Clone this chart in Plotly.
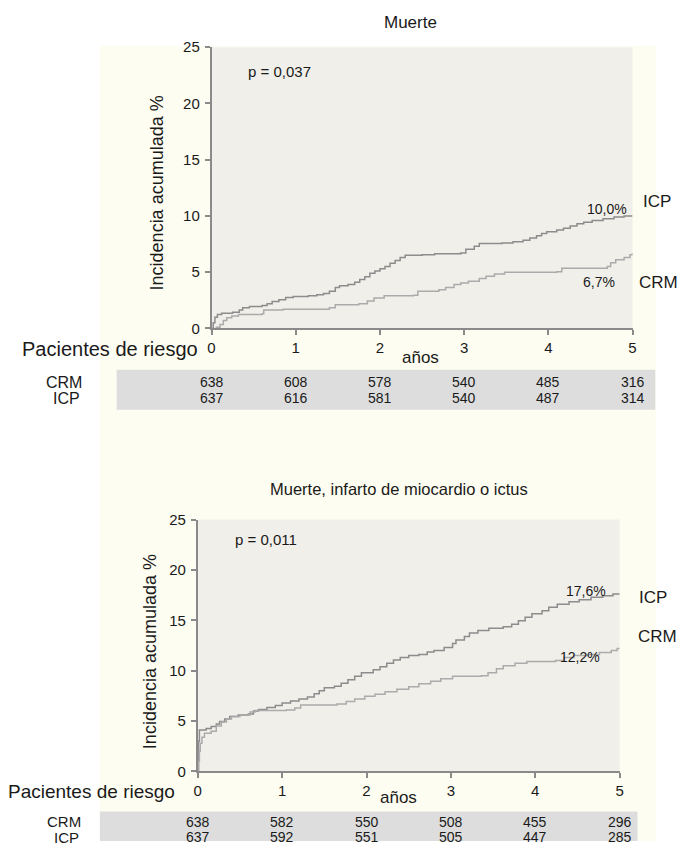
import plotly.graph_objects as go

W, H = 682, 849

years = [0, 1, 2, 3, 4, 5]
y_ticks = [0, 5, 10, 15, 20, 25]

# --- Panel 1: Muerte ---
m_icp_t = [0, 0.02, 0.04, 0.07, 0.12, 0.25, 0.33, 0.37, 0.45, 0.60, 0.66, 0.72, 0.80, 0.88, 0.97,
           1.15, 1.25, 1.33, 1.40, 1.47, 1.52, 1.62, 1.70, 1.76, 1.82, 1.88, 1.94, 2.00, 2.06,
           2.12, 2.18, 2.24, 2.30, 2.50, 2.65, 2.96, 3.02, 3.12, 3.18, 3.45, 3.58, 3.70, 3.78,
           3.86, 3.92, 3.98, 4.10, 4.18, 4.26, 4.34, 4.42, 4.52, 4.65, 4.78, 4.90, 5.0]
m_icp_v = [0, 0.5, 1.0, 1.25, 1.35, 1.45, 1.65, 1.85, 1.95, 2.05, 2.2, 2.4, 2.55, 2.75, 2.85,
           2.9, 3.0, 3.1, 3.3, 3.65, 3.8, 3.9, 4.1, 4.35, 4.6, 4.9, 5.1, 5.3, 5.5,
           5.8, 6.05, 6.3, 6.5, 6.55, 6.65, 6.7, 7.05, 7.3, 7.55, 7.6, 7.7, 7.85, 8.05,
           8.25, 8.45, 8.6, 8.75, 8.9, 9.1, 9.3, 9.45, 9.6, 9.75, 9.9, 10.0, 10.0]
m_crm_t = [0, 0.06, 0.10, 0.14, 0.18, 0.24, 0.32, 0.60, 0.62, 0.85, 1.20, 1.40, 1.47, 1.75,
           1.85, 1.93, 2.05, 2.40, 2.45, 2.70, 2.78, 2.88, 2.96, 3.05, 3.18, 3.26, 3.36, 3.48,
           4.10, 4.16, 4.70, 4.74, 4.80, 4.90, 4.97, 5.0]
m_crm_v = [0, 0.1, 0.35, 0.7, 0.95, 1.1, 1.25, 1.3, 1.65, 1.7, 1.7, 1.85, 2.1, 2.2,
           2.45, 2.7, 2.9, 2.95, 3.3, 3.45, 3.65, 3.9, 4.05, 4.2, 4.45, 4.65, 4.85, 5.0,
           5.05, 5.35, 5.5, 5.85, 6.1, 6.3, 6.55, 6.7]

# --- Panel 2: Muerte, infarto de miocardio o ictus ---
c_icp_t = [0, 0.01, 0.02, 0.10, 0.16, 0.22, 0.26, 0.32, 0.38, 0.48, 0.60, 0.66, 0.72, 0.82,
           0.92, 1.0, 1.1, 1.2, 1.3, 1.38, 1.44, 1.50, 1.62, 1.70, 1.78, 1.86, 1.94, 2.08,
           2.16, 2.24, 2.32, 2.40, 2.50, 2.62, 2.72, 2.80, 2.92, 3.02, 3.06, 3.16, 3.22, 3.32,
           3.45, 3.62, 3.72, 3.80, 3.88, 3.96, 4.08, 4.16, 4.26, 4.40, 4.52, 4.66, 4.80, 4.92, 5.0]
c_icp_v = [0, 3.0, 4.1, 4.25, 4.45, 4.7, 4.95, 5.2, 5.45, 5.6, 5.7, 6.0, 6.15, 6.35,
           6.55, 6.8, 7.0, 7.2, 7.4, 7.7, 8.0, 8.3, 8.45, 8.75, 9.1, 9.45, 9.8, 10.1,
           10.4, 10.75, 11.05, 11.3, 11.5, 11.6, 11.85, 12.0, 12.3, 12.7, 13.05, 13.4, 13.75, 14.0,
           14.2, 14.35, 14.6, 14.95, 15.3, 15.65, 15.95, 16.3, 16.6, 16.85, 17.05, 17.3, 17.45, 17.6, 17.6]
c_crm_t = [0, 0.01, 0.02, 0.03, 0.05, 0.08, 0.16, 0.22, 0.28, 0.34, 0.40, 0.50, 0.62, 0.68,
           1.05, 1.15, 1.22, 1.65, 1.76, 1.86, 1.98, 2.10, 2.22, 2.36, 2.50, 2.62, 2.76, 2.88,
           3.02, 3.36, 3.44, 3.54, 3.62, 3.76, 3.90, 4.24, 4.34, 4.46, 4.62, 4.76, 4.90, 4.97, 5.0]
c_crm_v = [0, 1.0, 2.0, 2.8, 3.4, 3.8, 4.0, 4.5, 4.9, 5.2, 5.45, 5.6, 5.9, 6.05,
           6.1, 6.3, 6.6, 6.7, 6.95, 7.2, 7.45, 7.65, 7.9, 8.15, 8.4, 8.7, 8.95, 9.2,
           9.45, 9.5, 9.8, 10.2, 10.5, 10.75, 10.9, 11.0, 11.3, 11.5, 11.6, 11.8, 12.0, 12.2, 12.2]

# Numbers at risk
risk1_crm = [638, 608, 578, 540, 485, 316]
risk1_icp = [637, 616, 581, 540, 487, 314]
risk2_crm = [638, 582, 550, 508, 455, 296]
risk2_icp = [637, 592, 551, 505, 447, 285]

FONT = "Liberation Sans, Arial, Helvetica, sans-serif"
C_ICP = "#8c8c8c"
C_CRM = "#ababab"
CREAM = "#fefdf1"
PLOTBG = "#f1efea"
TABLEBG = "#dddddd"
AXC = "#8a8a8a"
TXT = "#1a1a1a"


def px(x):
    return x / W


def py(y):
    return 1 - y / H


fig = go.Figure()
fig.add_trace(go.Scatter(x=m_icp_t, y=m_icp_v, mode="lines", line=dict(shape="hv", color=C_ICP, width=1.5),
                         xaxis="x", yaxis="y", name="ICP"))
fig.add_trace(go.Scatter(x=m_crm_t, y=m_crm_v, mode="lines", line=dict(shape="hv", color=C_CRM, width=1.5),
                         xaxis="x", yaxis="y", name="CRM"))
fig.add_trace(go.Scatter(x=c_icp_t, y=c_icp_v, mode="lines", line=dict(shape="hv", color=C_ICP, width=1.5),
                         xaxis="x2", yaxis="y2", name="ICP"))
fig.add_trace(go.Scatter(x=c_crm_t, y=c_crm_v, mode="lines", line=dict(shape="hv", color=C_CRM, width=1.5),
                         xaxis="x2", yaxis="y2", name="CRM"))

# panel geometry (pixels)
P1 = dict(l=210, r=636, t=39, b=326)
P2 = dict(l=196, r=623, t=521, b=778)

axis_common = dict(showline=True, linecolor=AXC, linewidth=1.5, ticks="outside", ticklen=5,
                   tickcolor=AXC, tickwidth=1.5, showgrid=False, zeroline=False,
                   tickfont=dict(family=FONT, size=15, color=TXT), fixedrange=True)

fig.update_layout(
    width=W, height=H, margin=dict(l=0, r=0, t=0, b=0),
    paper_bgcolor="white", plot_bgcolor="rgba(0,0,0,0)", showlegend=False,
    xaxis=dict(domain=[px(P1["l"]), px(P1["r"])], range=[0, 5], tickvals=years, anchor="y", **axis_common),
    yaxis=dict(domain=[py(P1["b"]), py(P1["t"])], range=[0, 25], tickvals=y_ticks, anchor="x", **axis_common),
    xaxis2=dict(domain=[px(P2["l"]), px(P2["r"])], range=[0, 5], tickvals=years, anchor="y2", **axis_common),
    yaxis2=dict(domain=[py(P2["b"]), py(P2["t"])], range=[0, 25], tickvals=y_ticks, anchor="x2", **axis_common),
)
fig.update_xaxes(ticklabelstandoff=0)
fig.update_yaxes(ticklabelstandoff=2)

shapes = [
    dict(type="rect", xref="paper", yref="paper", x0=px(97), x1=px(660), y0=0, y1=py(38),
         fillcolor=CREAM, line=dict(width=0), layer="below"),
    dict(type="rect", xref="paper", yref="paper", x0=px(P1["l"]), x1=px(P1["r"]), y0=py(P1["b"]), y1=py(P1["t"]),
         fillcolor=PLOTBG, line=dict(width=0), layer="below"),
    dict(type="rect", xref="paper", yref="paper", x0=px(P2["l"]), x1=px(P2["r"]), y0=py(P2["b"]), y1=py(P2["t"]),
         fillcolor=PLOTBG, line=dict(width=0), layer="below"),
    dict(type="rect", xref="paper", yref="paper", x0=px(114), x1=px(659), y0=py(409), y1=py(368),
         fillcolor=TABLEBG, line=dict(width=0), layer="below"),
    dict(type="rect", xref="paper", yref="paper", x0=px(97), x1=px(641), y0=py(849), y1=py(819),
         fillcolor=TABLEBG, line=dict(width=0), layer="below"),
]
fig.update_layout(shapes=shapes)

ann = []


def text(s, x, y, size=14, xanchor="center", yanchor="middle", xref="paper", angle=0):
    ann.append(dict(text=s, x=(px(x) if xref == "paper" else x), y=py(y), xref=xref, yref="paper",
                    xanchor=xanchor, yanchor=yanchor, showarrow=False, textangle=angle,
                    font=dict(family=FONT, size=size, color=TXT)))


# Panel 1 texts
text("Muerte", 411, 14, size=17)
text("p = 0,037", 245, 64, size=15, xanchor="left")
text("Incidencia acumulada %", 155, 188, size=18, angle=-90)
text("10,0%", 610, 204, size=14)
text("ICP", 661, 196, size=17)
text("6,7%", 602, 279, size=14)
text("CRM", 662, 279, size=17)
text("Pacientes de riesgo", 198, 347, size=20, xanchor="right")
text("años", 421, 356, size=17)
text("CRM", 81, 381, size=16, xanchor="right")
text("ICP", 79, 397, size=16, xanchor="right")
for xv, n in zip(years, risk1_crm):
    text(str(n), xv, 381, size=14, xref="x")
for xv, n in zip(years, risk1_icp):
    text(str(n), xv, 397, size=14, xref="x")

# Panel 2 texts
text("Muerte, infarto de miocardio o ictus", 400, 490, size=16.5)
text("p = 0,011", 232, 541, size=15, xanchor="left")
text("Incidencia acumulada %", 148, 656, size=18, angle=-90)
text("17,6%", 589, 594, size=14)
text("ICP", 657, 601, size=17)
text("CRM", 661, 640, size=17)
text("12,2%", 583, 661, size=14)
text("Pacientes de riesgo", 175, 798, size=19, xanchor="right")
text("años", 399, 805, size=17)
text("CRM", 80, 829, size=15, xanchor="right")
text("ICP", 78, 845.5, size=15, xanchor="right")
for xv, n in zip(years, risk2_crm):
    text(str(n), xv, 829.5, size=14, xref="x2")
for xv, n in zip(years, risk2_icp):
    text(str(n), xv, 845, size=14, xref="x2")

fig.update_layout(annotations=ann)
fig.write_html("out.html", config={"displayModeBar": False},
               post_script="document.documentElement.style.margin='0';document.body.style.margin='0';"
                           "document.body.style.overflow='hidden';")
